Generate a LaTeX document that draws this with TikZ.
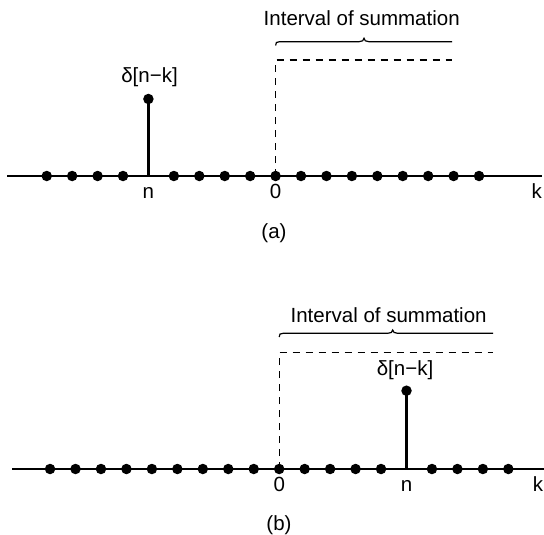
\documentclass[tikz,border=0pt]{standalone}
\usepackage{fontspec}
\setmainfont{Liberation Sans}
\begin{document}
\begin{tikzpicture}[x=1pt,y=-1pt,
  dot/.style={circle,fill=black,inner sep=0pt,minimum size=10.5pt},
  axisline/.style={line width=1.4pt},
  stemline/.style={line width=3.2pt},
  dashline/.style={line width=1.2pt,dash pattern=on 7pt off 6pt},
  braceline/.style={line width=1.2pt},
  lbl/.style={font=\fontsize{20.5}{24}\selectfont,inner sep=0pt}]
\useasboundingbox (0,0) rectangle (544,535);

% ---------------- panel (a) ----------------
\coordinate (aL) at (7.3,176);
\coordinate (aR) at (541.7,176);
\draw[axisline] (aL) -- (aR);
\foreach \k in {-9,-8,-7,-6,-4,-3,-2,-1,0,1,2,3,4,5,6,7,8}
  \node[dot] (a\k) at ({275.6+25.43*\k},176) {};
\coordinate (anb) at (148.4,176);
\node[dot] (atop) at (148.4,99) {};
\draw[stemline] (anb) -- (atop.center);
\node[lbl] (adelta) at (149.5,77) {δ[n−k]};
\node[lbl,anchor=base] (an) at (148.4,198.5) {n};
\node[lbl,anchor=base] (azero) at (275.6,198.5) {0};
\node[lbl,anchor=base] (ak) at (536.7,198.5) {k};
\node[lbl] (acap) at (274,233.3) {(a)};
% dashed step
\coordinate (adc) at (275.6,60);
\coordinate (ade) at (452,60);
\draw[dashline] (a0.center) -- (adc) -- (ade);
% brace
\coordinate (abL) at (275.6,45.5);
\coordinate (abT) at (364,38.3);
\coordinate (abR) at (452,41.7);
\draw[braceline] (abL) .. controls (275.6,42.5) and (276.5,41.7) .. (279.5,41.7)
  -- (359,41.7) .. controls (362,41.7) and (364,40.5) .. (abT)
  .. controls (364,40.5) and (366,41.7) .. (369,41.7) -- (abR);
\node[lbl,anchor=base] (atxt) at (361.7,26) {Interval of summation};

% ---------------- panel (b) ----------------
\coordinate (bL) at (12.3,469);
\coordinate (bR) at (544,469);
\draw[axisline] (bL) -- (bR);
\foreach \k in {-9,-8,-7,-6,-5,-4,-3,-2,-1,0,1,2,3,4,6,7,8,9}
  \node[dot] (b\k) at ({279.2+25.46*\k},469) {};
\coordinate (bnb) at (406.5,469);
\node[dot] (btop) at (406.5,390.7) {};
\draw[stemline] (bnb) -- (btop.center);
\node[lbl] (bdelta) at (405,370) {δ[n−k]};
\node[lbl,anchor=base] (bn) at (406.5,491.5) {n};
\node[lbl,anchor=base] (bzero) at (279.2,491.5) {0};
\node[lbl,anchor=base] (bk) at (538,491.5) {k};
\node[lbl] (bcap) at (279,525) {(b)};
% dashed step
\coordinate (bdc) at (279.2,352.3);
\coordinate (bde) at (493,352.3);
\draw[dashline] (b0.center) -- (bdc) -- (bde);
% brace
\coordinate (bbL) at (279.2,337);
\coordinate (bbT) at (392.7,330);
\coordinate (bbR) at (493,333.3);
\draw[braceline] (bbL) .. controls (279.2,334.1) and (280.1,333.3) .. (283.1,333.3)
  -- (387.7,333.3) .. controls (390.7,333.3) and (392.7,332.2) .. (bbT)
  .. controls (392.7,332.2) and (394.7,333.3) .. (397.7,333.3) -- (bbR);
\node[lbl,anchor=base] (btxt) at (388.6,322) {Interval of summation};
\end{tikzpicture}
\end{document}
